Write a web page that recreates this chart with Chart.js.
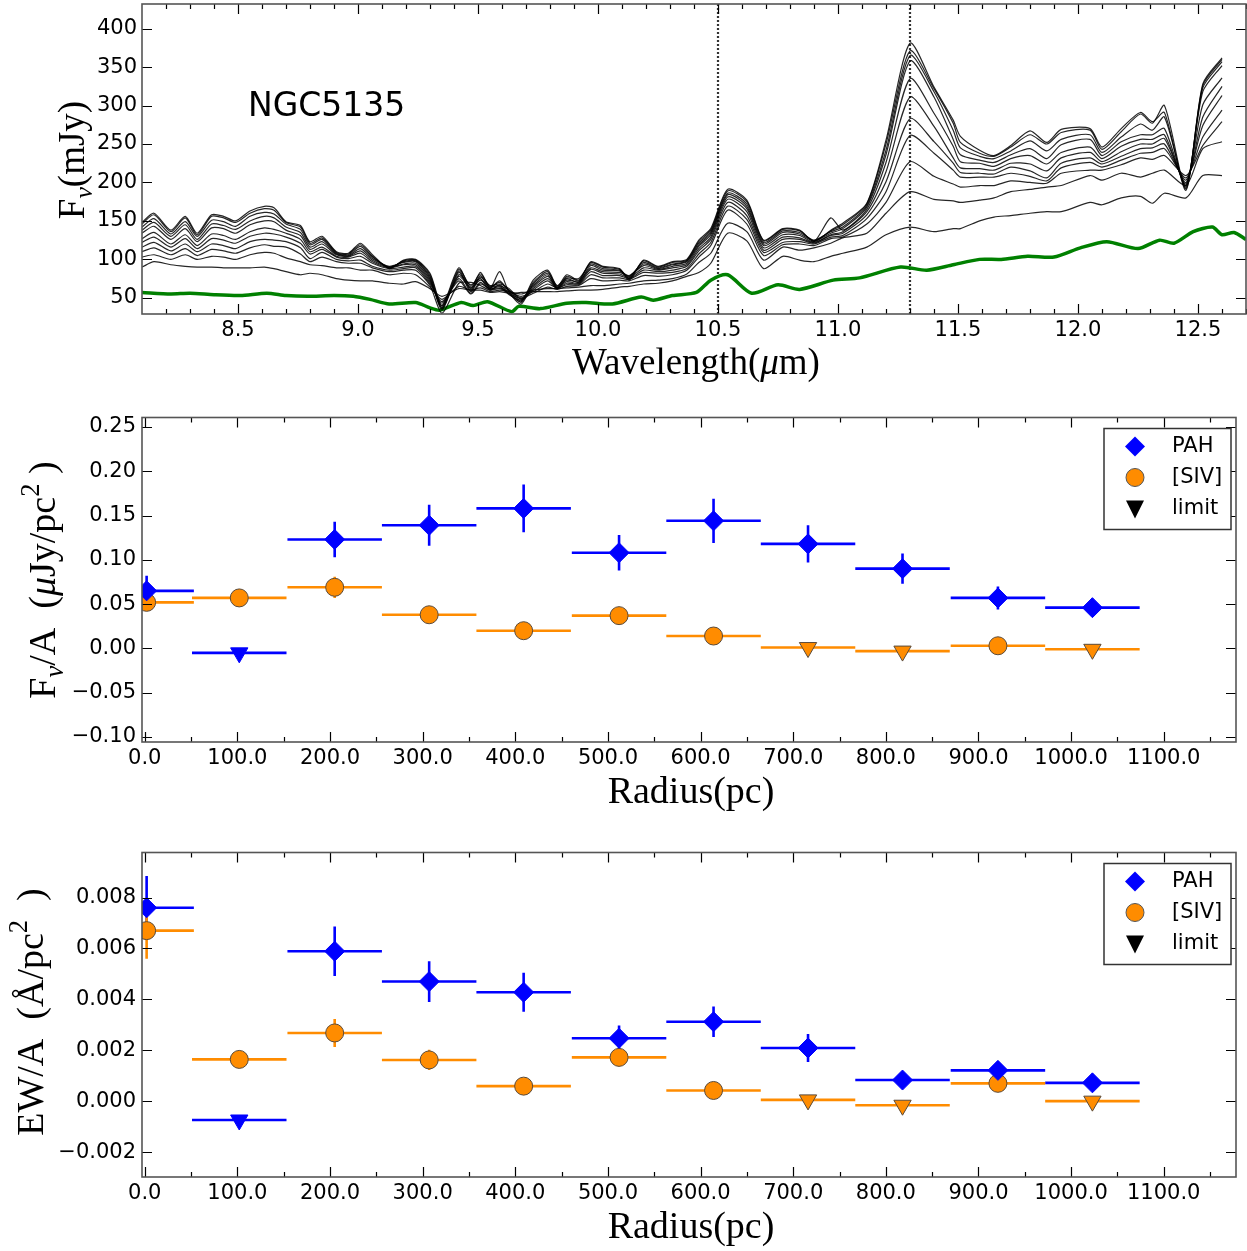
<!DOCTYPE html>
<html>
<head>
<meta charset="utf-8">
<script src="https://cdn.jsdelivr.net/npm/chart.js@4.4.0/dist/chart.umd.min.js"></script>
<style>
  body { margin: 0; background: #fff; }
  #wrap { position: relative; width: 1247px; height: 1251px; overflow: hidden; }
  canvas { position: absolute; left: 0; }
</style>
</head>
<body>
<div id="wrap">
  <canvas id="spec-chart" width="1247" height="405" style="top:-20px"></canvas>
  <canvas id="flux-chart" width="1247" height="425" style="top:395px"></canvas>
  <canvas id="ew-chart" width="1247" height="421" style="top:830px"></canvas>
</div>
<script>
// ---- spectra (top panel) ----
const specWave = [8.10, 8.15, 8.22, 8.28, 8.33, 8.39, 8.44, 8.49, 8.55, 8.61, 8.65, 8.70, 8.76, 8.80, 8.85, 8.91, 8.96, 9.01, 9.06, 9.13,
  9.19, 9.24, 9.30, 9.35, 9.42, 9.47, 9.51, 9.55, 9.59, 9.63, 9.68, 9.73, 9.79, 9.83, 9.87, 9.92, 9.97, 10.02, 10.09, 10.13,
  10.19, 10.25, 10.31, 10.37, 10.42, 10.47, 10.54, 10.62, 10.69, 10.77, 10.84, 10.90, 10.97, 11.02, 11.12, 11.20, 11.30, 11.40, 11.48, 11.51,
  11.59, 11.65, 11.72, 11.80, 11.87, 11.93, 12.05, 12.10, 12.18, 12.26, 12.31, 12.36, 12.45, 12.52, 12.60];

const flux1 = [148,160,138,156,134,158,156,150,163,169, 167,149,144,123,130,110,108,121,106,88, 99,100,82,40,89,62,83,63,72,58,
  44,73,86,65,80,73,97,91,88,73, 99,91,97,100,125,140,191,177,125,140, 138,123,138,147,173,255,381,324,281,260,
  242,235,248,267,252,269,270,246,270,291, 279,291,190,328,362];
const flux2 = [146,158,136,154,132,156,154,148,160,166, 164,148,142,121,128,109,107,119,104,89, 98,99,80,38,87,65,81,65,70,60,
  46,70,84,63,78,72,96,90,87,75, 98,90,96,99,123,138,189,175,124,139, 137,124,137,145,172,250,371,322,277,252,
  238,234,246,262,250,265,268,243,266,289, 277,300,192,326,360];
const flux3 = [142,153,133,149,130,151,149,143,156,161, 159,146,139,119,126,108,106,117,103,90, 97,98,78,36,85,60,79,62,84,57,
  42,68,82,66,76,75,94,88,86,78, 96,89,94,98,121,136,186,172,122,137, 135,125,136,142,170,242,365,318,268,245,
  234,231,241,254,241,256,262,239,259,276, 268,285,194,323,357];
const flux4 = [138,148,130,145,126,146,144,139,150,156, 154,142,135,116,123,107,105,114,101,91, 96,97,76,34,83,58,77,66,68,62,
  48,66,80,62,75,70,92,86,85,77, 94,88,93,97,119,134,184,169,120,135, 133,124,134,140,168,236,358,311,256,236,
  229,226,236,244,231,249,256,235,253,262, 262,270,196,318,352];
const flux5 = [134,143,126,140,123,141,140,134,145,150, 149,138,131,113,120,106,104,111,99,90, 94,95,74,37,80,67,75,60,67,55,
  45,64,78,64,73,71,89,84,83,79, 92,87,91,95,117,132,181,166,118,132, 131,123,154,138,165,226,335,290,247,227,
  225,221,231,235,224,239,246,231,247,256, 256,262,198,301,336];
const flux6 = [127,135,120,132,118,133,131,126,136,141, 139,134,126,110,116,104,103,108,97,89, 93,93,72,40,78,63,73,64,66,60,
  50,62,75,63,71,69,87,82,81,76, 89,86,89,93,114,129,178,162,115,129, 128,122,132,136,162,214,311,273,232,219,
  218,216,225,224,215,232,239,227,240,250, 250,257,200,285,325];
const flux7 = [122,129,116,127,114,127,125,121,130,134, 133,129,121,107,113,103,101,104,95,88, 90,91,70,43,75,56,70,61,65,54,
  47,60,72,62,69,68,84,79,79,75, 86,84,86,91,111,126,174,157,112,126, 126,121,131,134,158,201,283,253,225,213,
  212,211,220,215,206,225,232,224,234,244, 245,250,203,274,313];
const flux8 = [116,122,111,120,110,120,118,114,123,126, 125,123,115,101,109,100,98,99,91,86, 88,89,68,45,72,55,68,62,63,58,
  52,58,68,63,67,67,80,76,76,74, 83,82,83,88,107,122,169,152,109,122, 123,120,129,131,153,188,261,238,216,207,
  207,207,212,208,202,219,226,220,229,238, 239,244,206,259,294];
const flux9 = [110,115,106,114,105,113,111,108,115,119, 117,116,107,97,103,97,95,95,89,84, 86,86,66,30,69,70,66,60,62,56,
  49,56,64,61,65,66,75,72,73,72, 79,78,80,86,103,118,164,146,105,119, 120,118,127,129,146,174,227,208,198,194,
  196,196,202,200,199,212,216,216,223,232, 230,235,209,248,279];
const flux10 = [103,106,100,106,100,104,103,100,106,109, 108,102,97,93,92,89,89,86,86,80, 82,80,64,48,65,60,63,58,60,58,
  55,60,62,62,63,64,66,66,68,69, 72,73,75,81,96,108,147,136,99,116, 112,115,121,128,134,160,188,178,176,174,
  177,180,188,191,194,196,209,203,212,207, 212,216,196,244,253];
const flux11 = [90,97,93,91,90,90,89,89,89,90, 88,84,80,82,80,75,73,72,72,69, 68,71,62,52,62,60,60,57,58,56,
  57,58,58,58,59,60,60,61,64,65, 68,69,72,78,83,95,134,124,88,104, 99,97,104,108,116,132,142,136,140,140,
  150,155,157,160,162,162,174,171,180,182, 173,186,180,209,209];

const greenWave = [8.10, 8.22, 8.30, 8.40, 8.51, 8.62, 8.70, 8.79, 8.90, 8.98, 9.05, 9.13, 9.24, 9.30, 9.34, 9.43, 9.48, 9.54, 9.64, 9.67,
  9.76, 9.87, 9.95, 10.06, 10.18, 10.23, 10.31, 10.41, 10.47, 10.54, 10.64, 10.75, 10.84, 10.98, 11.09, 11.26, 11.37, 11.48, 11.59, 11.68,
  11.79, 11.90, 12.01, 12.12, 12.25, 12.34, 12.40, 12.48, 12.56, 12.60, 12.65, 12.70];
const greenFlux = [57,55,56,54,53,56,53,52,53,52, 48,42,44,37,34,44,40,45,32,39,
  36,43,44,42,51,47,53,57,73,80, 56,67,61,73,76,90,86,93,100,100,
  104,103,115,123,114,125,121,136,142,132, 135,126];

const featureLines = [10.5, 11.3];
const waveTicks = [8.5, 9.0, 9.5, 10.0, 10.5, 11.0, 11.5, 12.0, 12.5];
const specYTicks = [50, 100, 150, 200, 250, 300, 350, 400];

// ---- radial profiles (middle and bottom panels) ----
const radius = [2, 102, 205, 307, 409, 512, 614, 716, 818, 921, 1023];
const radiusErr = [51, 51, 51, 51, 51, 51, 51, 51, 51, 51, 51];
const pahLimit = [false, true, false, false, false, false, false, false, false, false, false];
const sivLimit = [false, false, false, false, false, false, false, true, true, false, true];

const pahFlux = [0.065, -0.005, 0.123, 0.139, 0.158, 0.108, 0.144, 0.118, 0.090, 0.057, 0.046];
const pahFluxErr = [0.017, 0, 0.020, 0.023, 0.027, 0.020, 0.025, 0.021, 0.017, 0.013, 0.005];
const sivFlux = [0.052, 0.057, 0.069, 0.038, 0.020, 0.037, 0.014, 0.001, -0.003, 0.003, -0.001];
const sivFluxErr = [0.004, 0.010, 0.012, 0.004, 0.003, 0.004, 0.003, 0, 0, 0.003, 0];

const pahEw = [0.0076, -0.00074, 0.00589, 0.0047, 0.00428, 0.00247, 0.00312, 0.00209, 0.00083, 0.00121, 0.00072];
const pahEwErr = [0.00125, 0, 0.00097, 0.0008, 0.00077, 0.0005, 0.0006, 0.00055, 0.00012, 0.0001, 0.00005];
const sivEw = [0.0067, 0.00164, 0.00268, 0.00162, 0.00059, 0.00172, 0.00042, 0.00005, -0.00016, 0.0007, 0.0];
const sivEwErr = [0.0011, 0.0003, 0.00055, 0.0004, 0.0001, 0.0002, 0.0001, 0, 0, 0.0001, 0];

const radiusTicks = [0, 100, 200, 300, 400, 500, 600, 700, 800, 900, 1000, 1100];
const fluxTicks = [-0.10, -0.05, 0.00, 0.05, 0.10, 0.15, 0.20, 0.25];
const ewTicks = [-0.002, 0.000, 0.002, 0.004, 0.006, 0.008];

const legendLabels = ['PAH', '[SIV]', 'limit'];

const BLUE = '#0000ff';
const ORANGE = '#ff8c00';
const SANS = 'DejaVu Sans';
const SERIF = 'Liberation Serif';
const TICK_FONT = { family: SANS, size: 21 };

function signed(v, d) {
    return (v < 0 ? '\u2212' : '') + Math.abs(v).toFixed(d);
}

// draws text made of pieces with sub/superscripts, centred on (cx, cy)
function drawRich(ctx, parts, cx, cy, size, rotate) {
    ctx.save();
    ctx.translate(cx, cy);
    if (rotate) ctx.rotate(-Math.PI / 2);
    ctx.fillStyle = '#000';
    ctx.textBaseline = 'alphabetic';
    let total = 0;
    const fonts = parts.map(p => {
        const s = (p.sub || p.sup) ? size * 0.7 : size;
        const f = (p.it ? 'italic ' : '') + s + 'px "' + SERIF + '"';
        ctx.font = f;
        const w = ctx.measureText(p.t).width;
        total += w;
        return { f: f, w: w };
    });
    let x = -total / 2;
    parts.forEach((p, i) => {
        ctx.font = fonts[i].f;
        let y = size * 0.33;
        if (p.sub) y += size * 0.22;
        if (p.sup) y -= size * 0.42;
        ctx.fillText(p.t, x, y);
        x += fonts[i].w;
    });
    ctx.restore();
}

function frameTicks(xMajor, xMinor, yMajor, yMinor) {
    return {
        id: 'frameTicks',
        afterDatasetsDraw(chart) {
            const ctx = chart.ctx;
            const a = chart.chartArea;
            const xs = chart.scales.x, ys = chart.scales.y;
            ctx.save();
            ctx.strokeStyle = '#000';
            ctx.lineWidth = 1.2;
            ctx.beginPath();
            const xt = (v, len) => {
                const p = Math.round(xs.getPixelForValue(v)) + 0.5;
                ctx.moveTo(p, a.bottom); ctx.lineTo(p, a.bottom - len);
                ctx.moveTo(p, a.top); ctx.lineTo(p, a.top + len);
            };
            const yt = (v, len) => {
                const p = Math.round(ys.getPixelForValue(v)) + 0.5;
                ctx.moveTo(a.left, p); ctx.lineTo(a.left + len, p);
                ctx.moveTo(a.right, p); ctx.lineTo(a.right - len, p);
            };
            xMajor.forEach(v => xt(v, 10));
            xMinor.forEach(v => xt(v, 5));
            yMajor.forEach(v => yt(v, 10));
            yMinor.forEach(v => yt(v, 5));
            ctx.stroke();
            ctx.strokeStyle = '#555';
            ctx.lineWidth = 1.6;
            ctx.strokeRect(a.left, a.top, a.right - a.left, a.bottom - a.top);
            ctx.restore();
        }
    };
}

function axisTitles(xParts, xPos, yParts, yPos, size) {
    return {
        id: 'axisTitles',
        afterDraw(chart) {
            drawRich(chart.ctx, xParts, xPos[0], xPos[1], size, false);
            drawRich(chart.ctx, yParts, yPos[0], yPos[1], size, true);
        }
    };
}

// ---------------- top panel ----------------
const specLines = [flux1, flux2, flux3, flux4, flux5, flux6, flux7, flux8, flux9, flux10, flux11];
const waveMinor = [];
for (let k = 82; k <= 127; k++) { if (k % 5 !== 0) waveMinor.push(k / 10); }

const specDecor = {
    id: 'specDecor',
    beforeDatasetsDraw(chart) {
        const ctx = chart.ctx, a = chart.chartArea, xs = chart.scales.x;
        ctx.save();
        ctx.strokeStyle = '#333';
        ctx.lineWidth = 2.2;
        ctx.setLineDash([2, 2]);
        featureLines.forEach(w => {
            const p = Math.round(xs.getPixelForValue(w));
            ctx.beginPath();
            ctx.moveTo(p, a.top); ctx.lineTo(p, a.bottom);
            ctx.stroke();
        });
        ctx.restore();
        ctx.save();
        ctx.fillStyle = '#000';
        ctx.font = '33px "' + SANS + '"';
        ctx.textBaseline = 'middle';
        ctx.fillText('NGC5135', 248, 127);
        ctx.restore();
    }
};

new Chart(document.getElementById('spec-chart'), {
    type: 'line',
    data: {
        datasets: specLines.map(arr => ({
            data: specWave.map((w, i) => ({ x: w, y: arr[i] })),
            borderColor: 'rgba(0,0,0,0.85)',
            borderWidth: 1.2,
            pointRadius: 0,
            tension: 0.25,
            fill: false
        })).concat([{
            data: greenWave.map((w, i) => ({ x: w, y: greenFlux[i] })),
            borderColor: '#008000',
            borderWidth: 3.5,
            pointRadius: 0,
            tension: 0.25,
            fill: false
        }])
    },
    options: {
        responsive: false,
        animation: false,
        devicePixelRatio: 1,
        layout: { padding: { top: 24, right: 1, left: 0, bottom: 0 } },
        plugins: { legend: { display: false }, tooltip: { enabled: false } },
        scales: {
            x: {
                type: 'linear', min: 8.1, max: 12.7,
                afterBuildTicks: s => { s.ticks = waveTicks.map(v => ({ value: v })); },
                afterFit: s => { s.height = 71; },
                grid: { display: false, drawTicks: false },
                border: { display: false },
                ticks: { font: TICK_FONT, color: '#000', padding: 4, maxRotation: 0, autoSkip: false,
                    callback: v => v.toFixed(1) }
            },
            y: {
                min: 29, max: 432,
                afterBuildTicks: s => { s.ticks = specYTicks.map(v => ({ value: v })); },
                afterFit: s => { s.width = 142; },
                grid: { display: false, drawTicks: false },
                border: { display: false },
                ticks: { font: TICK_FONT, color: '#000', padding: 5, autoSkip: false,
                    callback: v => String(v) }
            }
        }
    },
    plugins: [specDecor, frameTicks(waveTicks, waveMinor, specYTicks, []),
        axisTitles([{ t: 'Wavelength(' }, { t: '\u03bc', it: true }, { t: 'm)' }], [696, 382],
                   [{ t: 'F' }, { t: '\u03bd', sub: true, it: true }, { t: '(mJy)' }], [72, 180], 37)]
});

// ---------------- radial panels ----------------
const radiusMinor = [50, 150, 250, 350, 450, 550, 650, 750, 850, 950, 1050, 1150];

function errorBars(series) {
    return {
        id: 'errorBars',
        beforeDatasetsDraw(chart) {
            const ctx = chart.ctx, a = chart.chartArea, xs = chart.scales.x, ys = chart.scales.y;
            ctx.save();
            ctx.beginPath();
            ctx.rect(a.left, a.top, a.right - a.left, a.bottom - a.top);
            ctx.clip();
            ctx.lineWidth = 2.6;
            series.forEach(s => {
                ctx.strokeStyle = s.color;
                ctx.beginPath();
                radius.forEach((r, i) => {
                    const py = ys.getPixelForValue(s.y[i]);
                    ctx.moveTo(xs.getPixelForValue(r - radiusErr[i]), py);
                    ctx.lineTo(xs.getPixelForValue(r + radiusErr[i]), py);
                    if (s.err[i] > 0) {
                        const px = xs.getPixelForValue(r);
                        ctx.moveTo(px, ys.getPixelForValue(s.y[i] - s.err[i]));
                        ctx.lineTo(px, ys.getPixelForValue(s.y[i] + s.err[i]));
                    }
                });
                ctx.stroke();
            });
            ctx.restore();
        }
    };
}

const legendBox = {
    id: 'legendBox',
    afterDraw(chart) {
        const ctx = chart.ctx, a = chart.chartArea;
        const bx = 1104, by = a.top + 11, bw = 127, bh = 101;
        ctx.save();
        ctx.fillStyle = '#fff';
        ctx.fillRect(bx, by, bw, bh);
        ctx.strokeStyle = '#333';
        ctx.lineWidth = 1.5;
        ctx.strokeRect(bx, by, bw, bh);
        const rows = [by + 18, by + 49, by + 80];
        const mx = 1135;
        // diamond
        ctx.fillStyle = BLUE;
        ctx.beginPath();
        ctx.moveTo(mx, rows[0] - 10); ctx.lineTo(mx + 10, rows[0]); ctx.lineTo(mx, rows[0] + 10); ctx.lineTo(mx - 10, rows[0]);
        ctx.closePath(); ctx.fill();
        // circle
        ctx.fillStyle = ORANGE;
        ctx.strokeStyle = '#555';
        ctx.lineWidth = 1;
        ctx.beginPath();
        ctx.arc(mx, rows[1], 9, 0, Math.PI * 2);
        ctx.fill(); ctx.stroke();
        // triangle
        ctx.fillStyle = '#000';
        ctx.beginPath();
        ctx.moveTo(mx - 9, rows[2] - 8); ctx.lineTo(mx + 9, rows[2] - 8); ctx.lineTo(mx, rows[2] + 10);
        ctx.closePath(); ctx.fill();
        ctx.font = '21px "' + SANS + '"';
        ctx.textBaseline = 'middle';
        legendLabels.forEach((t, i) => ctx.fillText(t, 1172, rows[i]));
        ctx.restore();
    }
};

function radialChart(id, xHeight, yMin, yMax, yTicks, digits, pahY, pahErr, sivY, sivErr, yTitle, yTitlePos) {
    new Chart(document.getElementById(id), {
        type: 'scatter',
        data: {
            datasets: [{
                label: 'PAH',
                data: radius.map((r, i) => ({ x: r, y: pahY[i] })),
                pointStyle: pahLimit.map(l => l ? 'triangle' : 'rectRot'),
                pointRotation: pahLimit.map(l => l ? 180 : 0),
                pointRadius: 10,
                backgroundColor: BLUE,
                borderColor: BLUE,
                borderWidth: 1,
                clip: 0
            }, {
                label: '[SIV]',
                data: radius.map((r, i) => ({ x: r, y: sivY[i] })),
                pointStyle: sivLimit.map(l => l ? 'triangle' : 'circle'),
                pointRotation: sivLimit.map(l => l ? 180 : 0),
                pointRadius: sivLimit.map(l => l ? 10 : 9),
                backgroundColor: ORANGE,
                borderColor: '#5a4a3a',
                borderWidth: 1,
                clip: 0
            }]
        },
        options: {
            responsive: false,
            animation: false,
            devicePixelRatio: 1,
            layout: { padding: { top: 22.5, right: 5, left: 0, bottom: 0 } },
            plugins: { legend: { display: false }, tooltip: { enabled: false } },
            scales: {
                x: {
                    type: 'linear', min: -3, max: 1178,
                    afterBuildTicks: s => { s.ticks = radiusTicks.map(v => ({ value: v })); },
                    afterFit: s => { s.height = xHeight; },
                    grid: { display: false, drawTicks: false },
                    border: { display: false },
                    ticks: { font: TICK_FONT, color: '#000', padding: 4, maxRotation: 0, autoSkip: false,
                        callback: v => v.toFixed(1) }
                },
                y: {
                    min: yMin, max: yMax,
                    afterBuildTicks: s => { s.ticks = yTicks.map(v => ({ value: v })); },
                    afterFit: s => { s.width = 142; },
                    grid: { display: false, drawTicks: false },
                    border: { display: false },
                    ticks: { font: TICK_FONT, color: '#000', padding: 6, autoSkip: false,
                        callback: v => signed(v, digits) }
                }
            }
        },
        plugins: [
            errorBars([{ y: pahY, err: pahErr, color: BLUE }, { y: sivY, err: sivErr, color: ORANGE }]),
            frameTicks(radiusTicks, radiusMinor, yTicks, []),
            legendBox,
            axisTitles([{ t: 'Radius(pc)' }], [691, 395], yTitle, yTitlePos, 38)
        ]
    });
}

radialChart('flux-chart', 78, -0.1056, 0.2606, fluxTicks, 2, pahFlux, pahFluxErr, sivFlux, sivFluxErr,
    [{ t: 'F' }, { t: '\u03bd', sub: true, it: true }, { t: '/A  (' }, { t: '\u03bc', it: true }, { t: 'Jy/pc' }, { t: '2', sup: true }, { t: ' )' }],
    [42, 185]);

radialChart('ew-chart', 74, -0.00298, 0.00977, ewTicks, 3, pahEw, pahEwErr, sivEw, sivEwErr,
    [{ t: 'EW/A  (\u00c5/pc' }, { t: '2', sup: true }, { t: '  )' }],
    [30, 182]);
</script>
</body>
</html>
